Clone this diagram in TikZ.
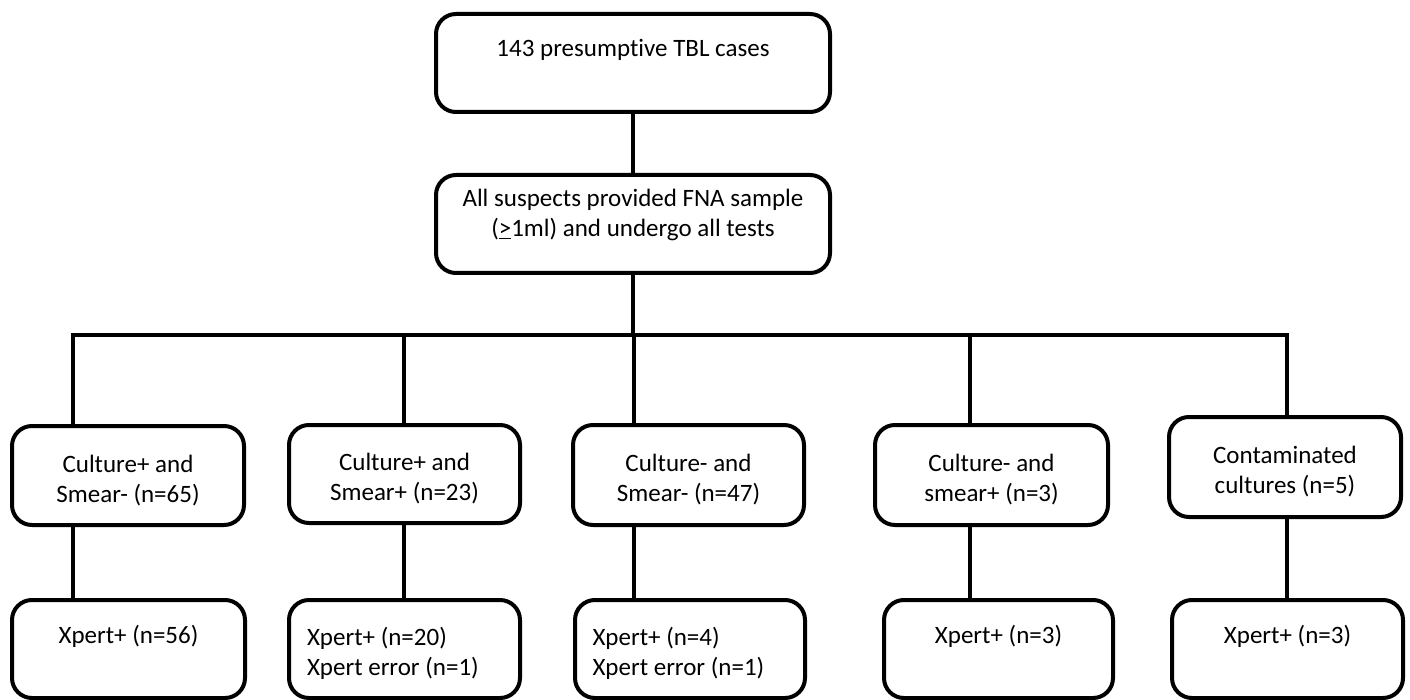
\documentclass[tikz,border=0pt]{standalone}
\usepackage{fontspec}
\setmainfont[Ligatures=NoCommon]{Carlito}
\newcommand\tp{\rule{0pt}{27pt}}
\begin{document}
\begin{tikzpicture}[x=1pt,y=-1pt,
  box/.style={draw=black,line width=4pt,rounded corners=20pt,fill=white,
    font=\fontsize{25}{30}\selectfont,inner sep=0pt,align=center},
  conn/.style={draw=black,line width=4pt}]
\useasboundingbox (0,0) rectangle (1410,700);
% top boxes
\node[box,minimum width=394pt,minimum height=98pt] (top) at (633,63)
  {\tp 143 presumptive TBL cases\\\strut};
\node[box,minimum width=394pt,minimum height=98pt] (all) at (633,224)
  {\tp All suspects provided FNA sample\\(\underline{>}1ml) and undergo all tests\\[-8pt]\strut};
% row 1
\node[box,minimum width=232pt,minimum height=99pt] (b1) at (128,475.5)
  {\tp Culture+ and\\Smear- (n=65)};
\node[box,minimum width=231pt,minimum height=98pt] (b2) at (404.5,474)
  {\tp Culture+ and\\Smear+ (n=23)};
\node[box,minimum width=231pt,minimum height=100pt] (b3) at (688.5,475)
  {\tp Culture- and\\Smear- (n=47)};
\node[box,minimum width=233pt,minimum height=100pt] (b4) at (991.5,475)
  {\tp Culture- and\\smear+ (n=3)};
\node[box,minimum width=232pt,minimum height=100pt] (b5) at (1285,467)
  {\tp Contaminated\\cultures (n=5)};
% row 2
\node[box,minimum width=233pt,minimum height=98pt] (l1) at (128.5,649)
  {\tp Xpert+ (n=56)\\\strut};
\node[box,minimum width=231pt,minimum height=98pt,align=left] (l2) at (404.5,649)
  {\tp\makebox[195pt][l]{Xpert+ (n=20)}\\Xpert error (n=1)};
\node[box,minimum width=230pt,minimum height=98pt,align=left] (l3) at (690,649)
  {\tp\makebox[195pt][l]{Xpert+ (n=4)}\\Xpert error (n=1)};
\node[box,minimum width=229pt,minimum height=98pt] (l4) at (998.5,649)
  {\tp Xpert+ (n=3)\\\strut};
\node[box,minimum width=231pt,minimum height=98pt] (l5) at (1287.5,649)
  {\tp Xpert+ (n=3)\\\strut};
% bus coordinates
\coordinate (j1) at (73,335);
\coordinate (j2) at (404,335);
\coordinate (j3) at (634,335);
\coordinate (j4) at (970,335);
\coordinate (j5) at (1287,335);
\coordinate (jc) at (633,335);
% connectors
\draw[conn] (top.south) -- (all.north);
\draw[conn] (all.south) -- (jc);
\draw[conn] ([xshift=-2pt]j1) -- ([xshift=2pt]j5);
\draw[conn] (j1) -- (j1 |- b1.north);
\draw[conn] (j2) -- (j2 |- b2.north);
\draw[conn] (j3) -- (j3 |- b3.north);
\draw[conn] (j4) -- (j4 |- b4.north);
\draw[conn] (j5) -- (j5 |- b5.north);
\draw[conn] (j1 |- b1.south) -- (j1 |- l1.north);
\draw[conn] (j2 |- b2.south) -- (j2 |- l2.north);
\draw[conn] (j3 |- b3.south) -- (j3 |- l3.north);
\draw[conn] (j4 |- b4.south) -- (j4 |- l4.north);
\draw[conn] (j5 |- b5.south) -- (j5 |- l5.north);
\end{tikzpicture}
\end{document}
